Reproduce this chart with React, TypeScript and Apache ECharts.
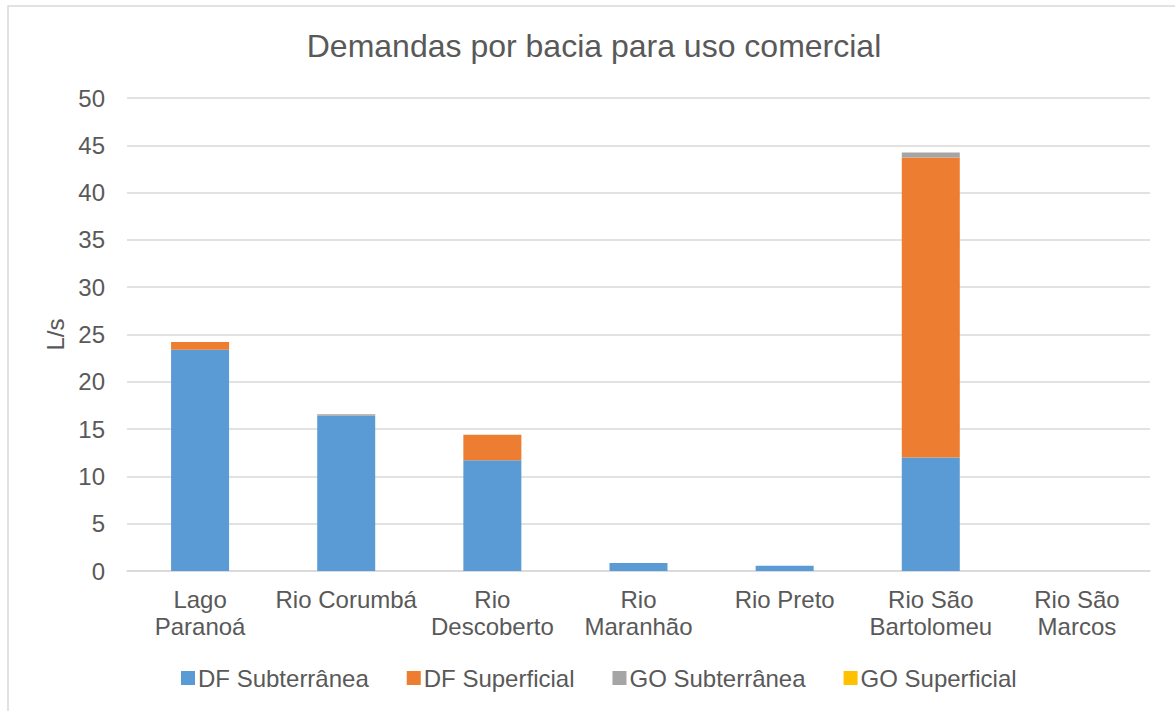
import React, { useEffect, useRef } from "react";
import * as echarts from "echarts";

const categories = [
  "Lago\nParanoá",
  "Rio Corumbá",
  "Rio\nDescoberto",
  "Rio\nMaranhão",
  "Rio Preto",
  "Rio São\nBartolomeu",
  "Rio São\nMarcos",
];
const dfSubterranea = [23.4, 16.4, 11.7, 0.85, 0.55, 12.0, 0];
const dfSuperficial = [0.8, 0, 2.7, 0, 0, 31.7, 0];
const goSubterranea = [0, 0.18, 0, 0, 0, 0.55, 0];
const goSuperficial = [0, 0, 0, 0, 0, 0, 0];
const yTicks = { min: 0, max: 50, interval: 5 };

const seriesDefs = [
  { name: "DF Subterrânea", data: dfSubterranea, color: "#5B9BD5" },
  { name: "DF Superficial", data: dfSuperficial, color: "#ED7D31" },
  { name: "GO Subterrânea", data: goSubterranea, color: "#A5A5A5" },
  { name: "GO Superficial", data: goSuperficial, color: "#FFC000" },
];

const FONT = "'Liberation Sans', Arial, sans-serif";
const TXT = "#595959";

export default function App() {
  const ref = useRef<HTMLDivElement>(null);
  useEffect(() => {
    if (!ref.current) return;
    const chart = echarts.init(ref.current, undefined, { renderer: "svg" });
    chart.setOption({
      animation: false,
      backgroundColor: "#ffffff",
      textStyle: { fontFamily: FONT },
      title: {
        text: "Demandas por bacia para uso comercial",
        left: 594,
        textAlign: "center",
        top: 30,
        padding: 0,
        textStyle: { fontFamily: FONT, fontSize: 32, fontWeight: "normal", color: TXT },
      },
      graphic: [
        {
          type: "rect",
          shape: { x: 8, y: 6, width: 1200, height: 750 },
          style: { fill: "none", stroke: "#D9D9D9", lineWidth: 1.5 },
          silent: true,
          z: -1,
        },
      ],
      legend: {
        left: 181,
        top: 666,
        padding: 0,
        itemWidth: 14,
        itemHeight: 14,
        itemGap: 38,
        icon: "rect",
        textStyle: { fontFamily: FONT, fontSize: 24, color: TXT, padding: [0, 0, 0, -2] },
        data: seriesDefs.map((s) => s.name),
      },
      grid: { left: 127, right: 25, top: 98, bottom: 140, containLabel: false },
      xAxis: {
        type: "category",
        data: categories,
        axisLine: { lineStyle: { color: "#D9D9D9", width: 1.5 } },
        axisTick: { show: false },
        axisLabel: {
          interval: 0,
          margin: 15,
          fontFamily: FONT,
          fontSize: 24,
          lineHeight: 27,
          color: TXT,
        },
      },
      yAxis: {
        type: "value",
        min: yTicks.min,
        max: yTicks.max,
        interval: yTicks.interval,
        name: "L/s",
        nameLocation: "middle",
        nameGap: 58,
        nameTextStyle: { fontFamily: FONT, fontSize: 24, color: TXT },
        axisLine: { show: false },
        axisTick: { show: false },
        axisLabel: { fontFamily: FONT, fontSize: 24, color: TXT, margin: 22 },
        splitLine: { lineStyle: { color: "#D9D9D9", width: 1.5 } },
      },
      series: seriesDefs.map((s) => ({
        name: s.name,
        type: "bar",
        stack: "total",
        barWidth: 58,
        data: s.data,
        itemStyle: { color: s.color },
      })),
    });
    return () => chart.dispose();
  }, []);
  return (
    <div
      ref={ref}
      style={{ position: "fixed", left: 0, top: 0, width: 1175, height: 711, background: "#fff" }}
    />
  );
}
